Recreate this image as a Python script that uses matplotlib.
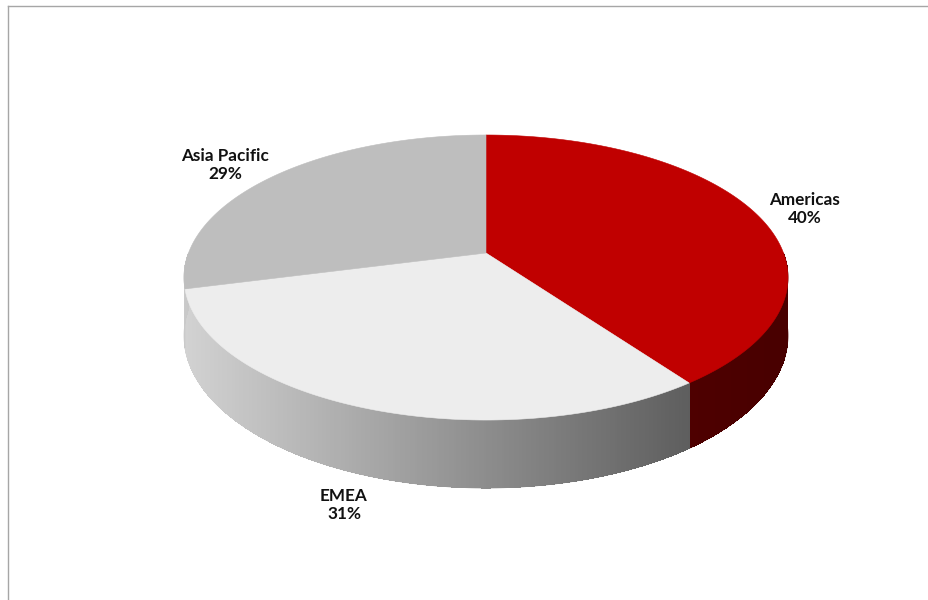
import numpy as np
import matplotlib
matplotlib.use("Agg")
import matplotlib.pyplot as plt
from matplotlib.patches import Polygon
from matplotlib.colors import to_rgb

# Regional share, drawn clockwise from 12 o'clock
categories = ["Americas", "EMEA", "Asia Pacific"]
shares = [40, 31, 29]
top_colors = ["#c00000", "#ededed", "#bebebe"]

# Side wall shading: (colour at left end, colour at right end) of each slice's visible wall
side_colors = [("#4e0000", "#480000"), ("#d2d2d2", "#5e5e5e"), ("#cacaca", "#c8c8c8")]

W, H = 929, 600
fig = plt.figure(figsize=(W / 100, H / 100), dpi=100)
ax = fig.add_axes([0, 0, 1, 1])
ax.set_xlim(0, W)
ax.set_ylim(H, 0)
ax.axis("off")

# Projected disc: centre, radii, perspective factor and wall height (pixels)
cx, cy = 486.0, 253.0
A, B, k = 297.5, 138.3, 0.172
depth = 56.3


def project(theta_deg, drop=0.0):
    t = np.radians(theta_deg)
    u, v = np.sin(t), np.cos(t)
    s = 1.0 + k * v
    x = cx + A * u / s
    y = cy - B * v / s + drop / s
    return x, y


def mix(c1, c2, f):
    a, b = np.array(to_rgb(c1)), np.array(to_rgb(c2))
    return tuple(a + (b - a) * np.clip(f, 0, 1))


total = float(sum(shares))
bounds = np.concatenate([[0], np.cumsum(shares)]) / total * 360.0

# Side walls (front half only): solid base, then shaded strips over it
for i in range(len(shares)):
    a, b = bounds[i], bounds[i + 1]
    lo, hi = max(a, 90.0), min(b, 270.0)
    if hi <= lo:
        continue
    ts = np.linspace(lo, hi, int((hi - lo) / 0.4) + 2)
    top_pts = [project(t) for t in ts]
    bot_pts = [project(t, depth) for t in ts[::-1]]
    c_left, c_right = side_colors[i]
    base = mix(c_left, c_right, 0.5)
    ax.add_patch(Polygon(top_pts + bot_pts, closed=True, facecolor=base,
                         edgecolor=base, linewidth=0.5))
    xs_all = [p[0] for p in top_pts]
    xmin, xmax = min(xs_all), max(xs_all)
    for t0, t1 in zip(ts[:-1], ts[1:]):
        x0, y0 = project(t0)
        x1, y1 = project(t1)
        _, y0b = project(t0, depth)
        _, y1b = project(t1, depth)
        f = ((x0 + x1) / 2 - xmin) / max(xmax - xmin, 1e-6)
        col = mix(c_left, c_right, f)
        ax.add_patch(Polygon([(x0, y0), (x1, y1), (x1, y1b), (x0, y0b)],
                             closed=True, facecolor=col, edgecolor="none",
                             antialiased=False))

# Top faces
for i in range(len(shares)):
    a, b = bounds[i], bounds[i + 1]
    ts = np.linspace(a, b, 200)
    pts = [(cx, cy)] + [project(t) for t in ts]
    ax.add_patch(Polygon(pts, closed=True, facecolor=top_colors[i],
                         edgecolor=top_colors[i], linewidth=0.4))

# Data labels
label_pos = {"Americas": (805, 209), "EMEA": (344, 505), "Asia Pacific": (225, 165)}
for name, val in zip(categories, shares):
    x, y = label_pos[name]
    ax.text(x, y, f"{name}\n{val}%", ha="center", va="center",
            fontsize=12.3, fontweight="bold", family="Lato",
            color="#111111", linespacing=1.2)

# Chart frame
ax.plot([8.5, W], [5.5, 5.5], color="#a6a6a6", lw=1.0)
ax.plot([8.5, 8.5], [5.5, H], color="#a6a6a6", lw=1.0)

fig.savefig("out.png", dpi=100)
